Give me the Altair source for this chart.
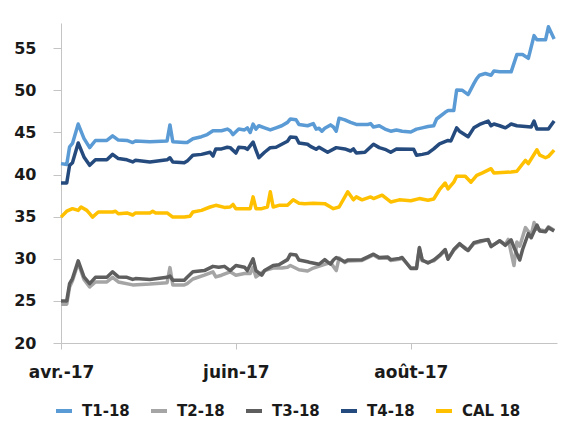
import altair as alt
import pandas as pd

series_names = ["T1-18", "T2-18", "T3-18", "T4-18", "CAL 18"]
series_colors = ["#5B9BD5", "#A5A5A5", "#5E5E5E", "#254B7E", "#FFC000"]

t1_dates = ["04-01","04-03","04-04","04-05","04-07","04-09","04-11","04-13","04-17","04-19","04-21","04-24","04-26","04-27",
            "05-02","05-08","05-09","05-10","05-14","05-15","05-17","05-20","05-22","05-24","05-27","05-29","05-30","05-31",
            "06-02","06-04","06-05","06-06","06-07","06-08","06-09","06-11","06-13","06-15","06-17","06-19","06-20","06-22","06-23",
            "06-26","06-28","06-29","06-30","07-01","07-02","07-04","07-05","07-06","07-07","07-09","07-11","07-13","07-17","07-18",
            "07-19","07-21","07-23","07-25","07-27","07-29","08-01","08-03","08-05","08-07","08-09","08-10","08-13","08-14","08-16",
            "08-17","08-19","08-21","08-23","08-24","08-25","08-27","08-29","08-30","09-01","09-05","09-07","09-09","09-11","09-13",
            "09-14","09-17","09-18","09-20"]
t1_values = [41.3,41.2,43.3,43.7,46.0,44.3,43.2,44.05,44.05,44.6,44.1,44.05,43.8,44.0,
             43.9,44.0,45.9,43.9,43.8,43.8,44.25,44.5,44.75,45.2,45.2,45.4,45.2,44.75,
             45.4,45.3,45.55,45.0,46.0,45.4,45.8,45.55,45.3,45.55,45.8,46.2,46.6,46.5,45.95,
             45.8,46.05,45.4,45.5,45.15,45.5,45.9,45.65,45.15,46.7,46.5,46.2,45.95,45.95,46.05,
             45.65,45.8,45.4,45.15,45.3,45.15,45.05,45.4,45.55,45.7,45.8,46.6,47.4,47.6,47.6,
             50.05,50.0,49.5,50.8,51.4,51.8,52.0,51.8,52.3,52.2,52.2,54.25,54.25,53.8,56.5,
             56.0,56.0,57.55,56.1]

t2_dates = ["04-01","04-03","04-04","04-05","04-07","04-09","04-11","04-13","04-17","04-19","04-21","04-26",
            "05-02","05-08","05-09","05-10","05-14","05-15","05-17","05-21","05-24","05-25","05-27","05-30",
            "06-01","06-04","06-06","06-07","06-08","06-11","06-14","06-17","06-19","06-20","06-23","06-26","06-28",
            "07-02","07-04","07-06","07-07","07-09","07-10","07-15","07-19","07-21","07-24","07-25","07-28","07-29",
            "08-01","08-03","08-04","08-05","08-07","08-09","08-11","08-13","08-14","08-16","08-18","08-20","08-21",
            "08-23","08-25","08-28","08-29","09-01","09-03","09-04","09-06","09-07","09-08","09-10","09-12","09-13",
            "09-14","09-17","09-18","09-20"]
t2_values = [24.6,24.6,26.65,27.4,29.5,27.55,26.65,27.25,27.25,27.8,27.25,26.9,
             27.0,27.15,28.95,26.9,26.9,27.05,27.6,28.05,28.45,27.85,28.05,28.45,
             28.05,28.25,28.25,29.0,27.85,28.6,28.9,28.9,29.0,29.2,28.7,28.55,28.9,
             29.35,29.55,28.6,30.1,29.55,29.75,29.8,30.45,30.05,30.1,29.8,29.95,30.05,
             28.95,28.95,31.2,29.75,29.6,29.75,30.3,31.0,30.0,31.0,31.7,31.3,31.0,
             31.8,32.0,32.3,31.5,32.1,31.7,32.3,29.2,32.0,31.5,33.7,32.8,34.3,
             33.5,33.3,33.8,33.4]

t3_dates = ["04-01","04-03","04-04","04-05","04-07","04-09","04-11","04-13","04-17","04-19","04-21","04-24","04-26","04-27",
            "05-02","05-08","05-09","05-10","05-14","05-15","05-17","05-21","05-24","05-26","05-28","05-30",
            "06-01","06-04","06-05","06-07","06-08","06-10","06-11","06-14","06-16","06-19","06-20","06-22","06-23",
            "06-26","06-27","06-30","07-02","07-04","07-05","07-06","07-09","07-10","07-15","07-19","07-21","07-24",
            "07-25","07-28","07-29","08-01","08-03","08-04","08-05","08-07","08-09","08-11","08-13","08-14","08-16",
            "08-18","08-20","08-21","08-23","08-25","08-28","08-29","09-01","09-03","09-05","09-06","09-08","09-09",
            "09-11","09-12","09-14","09-15","09-17","09-18","09-20"]
t3_values = [25.0,25.0,27.05,27.65,29.75,27.85,27.05,27.8,27.8,28.45,27.85,27.8,27.55,27.65,
             27.55,27.8,27.95,27.45,27.45,27.8,28.45,28.6,29.1,29.0,29.1,28.6,
             29.2,29.0,28.6,30.0,28.6,28.05,28.6,29.2,29.3,29.9,30.55,30.45,29.85,
             29.65,29.55,29.35,29.9,29.35,29.85,30.15,29.65,29.85,29.9,30.55,30.15,30.2,
             29.9,30.05,30.15,28.85,28.85,31.35,29.85,29.5,29.85,30.4,31.1,29.95,31.1,
             31.8,31.2,31.0,31.9,32.1,32.25,31.45,32.15,31.6,32.25,31.35,29.85,31.1,
             33.0,32.5,34.0,33.3,33.2,33.7,33.3]

t4_dates = ["04-01","04-03","04-04","04-05","04-07","04-09","04-11","04-13","04-17","04-19","04-21","04-24","04-26","04-27",
            "05-02","05-08","05-09","05-10","05-14","05-15","05-17","05-20","05-23","05-24","05-25","05-27","05-29","05-30",
            "06-01","06-02","06-04","06-05","06-07","06-08","06-09","06-11","06-13","06-15","06-17","06-19","06-20","06-22",
            "06-23","06-26","06-27","06-29","06-30","07-03","07-06","07-09","07-11","07-12","07-13","07-16","07-19","07-21",
            "07-23","07-25","07-27","08-02","08-03","08-05","08-07","08-09","08-11","08-14","08-15","08-17","08-18","08-21",
            "08-23","08-25","08-28","08-29","08-30","09-01","09-03","09-05","09-07","09-12","09-13","09-14","09-18","09-20"]
t4_values = [39.0,39.0,41.1,41.4,43.75,42.1,41.1,41.75,41.75,42.4,41.9,41.75,41.5,41.7,
             41.5,41.75,42.0,41.5,41.4,41.6,42.3,42.4,42.65,42.2,43.05,43.05,43.25,43.2,
             42.55,43.25,43.2,43.0,43.85,42.9,42.0,42.65,43.2,43.25,43.6,43.95,44.45,44.4,
             43.75,43.6,43.35,43.0,43.25,42.65,43.2,43.05,42.8,43.05,42.55,42.65,43.6,43.2,
             43.0,42.65,43.05,43.0,42.3,42.4,42.55,43.05,43.65,44.05,44.0,45.55,45.15,44.5,
             45.55,45.95,46.35,45.8,46.0,45.8,45.55,46.0,45.8,45.65,46.35,45.4,45.4,46.35]

cal_dates = ["04-01","04-03","04-05","04-07","04-08","04-10","04-11","04-12","04-14","04-19","04-20","04-21","04-24","04-26",
             "04-27","05-02","05-03","05-04","05-08","05-10","05-14","05-16","05-17","05-20","05-23","05-25","05-28","05-30",
             "05-31","06-01","06-06","06-07","06-08","06-10","06-12","06-13","06-14","06-16","06-19","06-21","06-23","06-25",
             "06-28","07-02","07-04","07-05","07-07","07-10","07-12","07-13","07-15","07-18","07-19","07-22","07-25","07-28",
             "08-01","08-04","08-07","08-09","08-11","08-13","08-14","08-16","08-17","08-20","08-22","08-24","08-26","08-29",
             "08-30","09-05","09-07","09-10","09-11","09-14","09-15","09-17","09-18","09-20"]
cal_values = [34.95,35.65,35.95,35.75,36.15,35.75,35.35,34.95,35.55,35.55,35.65,35.35,35.45,35.2,
              35.45,35.45,35.65,35.45,35.45,34.95,34.95,35.05,35.55,35.75,36.15,36.35,36.1,36.15,
              36.45,35.95,35.95,37.35,35.95,35.95,36.15,37.95,36.15,36.35,36.35,37.0,36.6,36.55,
              36.6,36.55,36.15,35.95,36.15,37.95,37.0,37.35,37.0,37.35,37.15,37.55,36.75,37.0,
              36.9,37.15,36.95,37.1,38.2,39.0,38.3,39.1,39.8,39.8,39.1,39.9,40.2,40.7,
              40.2,40.3,40.4,41.7,41.3,42.95,42.3,42.0,42.15,42.9]

x_tick_labels = ["avr.-17", "juin-17", "août-17"]
y_ticks = [20, 25, 30, 35, 40, 45, 50, 55]

rows = []
for name, ds, vs in zip(series_names,
                        [t1_dates, t2_dates, t3_dates, t4_dates, cal_dates],
                        [t1_values, t2_values, t3_values, t4_values, cal_values]):
    for d, v in zip(ds, vs):
        rows.append({"serie": name, "date": "2017-" + d + "T00:00:00", "valeur": v})
df = pd.DataFrame(rows)

FONT = "DejaVu Sans"
label_expr = ("month(datum.value) == 3 ? '%s' : month(datum.value) == 5 ? '%s' : '%s'"
              % tuple(x_tick_labels))

chart = alt.Chart(df).mark_line(strokeWidth=3.5, strokeJoin="round").encode(
    x=alt.X("date:T",
            scale=alt.Scale(domain=[alt.DateTime(year=2017, month=4, date=1),
                                    alt.DateTime(year=2017, month=9, date=21)]),
            axis=alt.Axis(title=None, grid=False,
                          values=[alt.DateTime(year=2017, month=4, date=1),
                                  alt.DateTime(year=2017, month=6, date=1),
                                  alt.DateTime(year=2017, month=8, date=1)],
                          labelExpr=label_expr, tickSize=6, labelPadding=15,
                          labelFontSize=17, labelFont=FONT, labelFontWeight="bold",
                          labelColor="#1a1a1a", domainColor="#c4c4c4", tickColor="#c4c4c4",
                          labelFlush=False, labelOverlap=False)),
    y=alt.Y("valeur:Q",
            scale=alt.Scale(domain=[20, 58], nice=False, zero=False),
            axis=alt.Axis(title=None, grid=False, values=y_ticks, tickSize=8, labelPadding=17,
                          labelFontSize=16, labelFont=FONT, labelFontWeight="bold",
                          labelColor="#1a1a1a", domainColor="#c4c4c4", tickColor="#c4c4c4")),
    color=alt.Color("serie:N",
                    scale=alt.Scale(domain=series_names, range=series_colors),
                    legend=alt.Legend(title=None, orient="none", legendX=-7, legendY=378,
                                      direction="horizontal", symbolType="stroke",
                                      symbolStrokeWidth=4, symbolSize=256,
                                      labelFontSize=15, labelFont=FONT, labelFontWeight="bold",
                                      labelColor="#1a1a1a", labelOffset=8, columnPadding=13,
                                      padding=0)),
    order=alt.Order("date:T"),
).properties(
    width=496, height=320,
    padding={"left": 5, "top": 15, "right": 5, "bottom": 0},
).configure_view(stroke=None)

chart.save("out.html", embed_options={"renderer": "svg", "actions": False})
